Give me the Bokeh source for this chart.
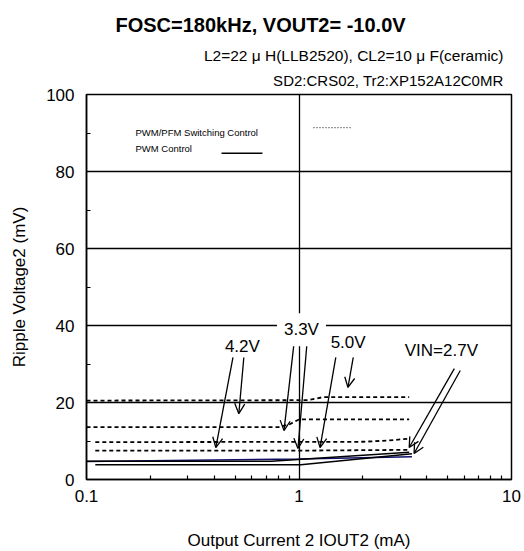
from bokeh.plotting import figure
from bokeh.models import ColumnDataSource, Label, Arrow, OpenHead, FixedTicker, Range1d, Title
from bokeh.embed import file_html
from bokeh.resources import INLINE

FONT = "Liberation Sans"

# ---- texts ----
title_text = "FOSC=180kHz, VOUT2= -10.0V"
subtitle_1 = "L2=22 \u03bc H(LLB2520), CL2=10 \u03bc F(ceramic)"
subtitle_2 = "SD2:CRS02, Tr2:XP152A12C0MR"
x_label = "Output Current 2 IOUT2 (mA)"
y_label = "Ripple Voltage2 (mV)"
legend_pfm = "PWM/PFM Switching Control"
legend_pwm = "PWM  Control"

# ---- ticks ----
x_ticks = [0.1, 1, 10]
x_tick_labels = ["0.1", "1", "10"]
x_minor = [0.2, 0.3, 0.4, 0.5, 0.6, 0.7, 0.8, 0.9, 2, 3, 4, 5, 6, 7, 8, 9]
y_ticks = [0, 20, 40, 60, 80, 100]
y_minor = [10, 30, 50, 70, 90]

# ---- PWM/PFM switching control (dashed) ----
x_pfm_1 = [0.1, 1.1, 1.3, 3.3]
y_pfm_1 = [20.5, 20.6, 21.4, 21.4]
x_pfm_2 = [0.1, 0.8, 0.9, 1.0, 3.3]
y_pfm_2 = [13.6, 13.6, 14.3, 15.6, 15.6]
x_pfm_3 = [0.11, 2.0, 2.6, 3.3]
y_pfm_3 = [9.7, 9.8, 10.1, 10.6]
x_pfm_4 = [0.11, 1.0, 3.3]
y_pfm_4 = [7.5, 7.5, 7.7]

# ---- PWM control (solid) ----
x_pwm_1 = [0.1, 0.74, 3.3]
y_pwm_1 = [4.75, 4.75, 7.1]
x_pwm_2 = [0.1, 1.0, 3.4]
y_pwm_2 = [4.7, 5.3, 5.9]
x_pwm_3 = [0.11, 1.02, 3.4]
y_pwm_3 = [3.8, 3.8, 6.7]

# ---- VIN labels and arrows ----
vin_text = ["4.2V", "3.3V", "5.0V", "VIN=2.7V"]
vin_x = [0.5415, 1.027, 1.703, 4.676]
vin_y = [34.6, 38.9, 35.7, 33.6]

arrow_x0 = [0.489, 0.550, 0.947, 1.09, 1.49, 1.80, 5.38, 5.74]
arrow_y0 = [31.7, 31.7, 35.3, 35.3, 31.7, 31.7, 28.8, 28.3]
arrow_x1 = [0.406, 0.521, 0.850, 0.989, 1.256, 1.70, 3.30, 3.48]
arrow_y1 = [8.3, 17.1, 12.7, 8.05, 8.3, 23.9, 8.3, 6.75]

# legend sample segments (data units)
leg_pfm_x = [1.17, 1.748]
leg_pfm_y = [91.4, 91.4]
leg_pwm_x = [0.432, 0.673]
leg_pwm_y = [84.75, 84.75]

p = figure(x_axis_type="log", x_range=Range1d(0.1, 10), y_range=Range1d(0, 100),
           frame_width=425, frame_height=385,
           min_border_left=86, min_border_right=12, min_border_top=94, min_border_bottom=70,
           output_backend="svg", toolbar_location=None, title=title_text)
p.background_fill_color = "white"
p.border_fill_color = "white"
p.outline_line_color = "black"
p.outline_line_width = 1.5
p.outline_line_alpha = 1

# figure title is outermost; added titles stack with the first one closest to the frame
p.title.align = "left"
p.title.offset = 29
p.title.standoff = 18
p.title.text_font = FONT
p.title.text_font_size = "20px"
p.title.text_font_style = "bold"
p.title.text_color = "black"
p.add_layout(Title(text=subtitle_2, align="right", offset=8, standoff=12, text_font=FONT,
                   text_font_size="15px", text_font_style="normal", text_color="black"), "above")
p.add_layout(Title(text=subtitle_1, align="right", offset=8, standoff=0, text_font=FONT,
                   text_font_size="15.5px", text_font_style="normal", text_color="black"), "above")

p.grid.grid_line_color = "black"
p.grid.grid_line_width = 1.3
p.grid.grid_line_alpha = 1

p.xaxis.ticker = FixedTicker(ticks=x_ticks, minor_ticks=x_minor)
p.xaxis.major_label_overrides = dict(zip(x_ticks, x_tick_labels))
p.yaxis.ticker = FixedTicker(ticks=y_ticks, minor_ticks=y_minor)

for ax in (p.xaxis[0], p.yaxis[0]):
    ax.axis_line_color = "black"
    ax.axis_line_width = 1.5
    ax.major_tick_in = 0
    ax.major_tick_out = 0
    ax.minor_tick_in = 4
    ax.minor_tick_out = 0
    ax.minor_tick_line_color = "black"
    ax.minor_tick_line_width = 1.2
    ax.major_label_text_font = FONT
    ax.major_label_text_font_size = "17px"
    ax.major_label_text_color = "black"
    ax.axis_label_text_font = FONT
    ax.axis_label_text_font_size = "17px"
    ax.axis_label_text_font_style = "normal"
    ax.axis_label_text_color = "black"

p.xaxis.axis_label = x_label
p.yaxis.axis_label = y_label
p.xaxis.major_label_standoff = 10
p.yaxis.major_label_standoff = 12
p.xaxis.axis_label_standoff = 26
p.yaxis.axis_label_standoff = 14

# curves
for xs, ys in [(x_pfm_1, y_pfm_1), (x_pfm_2, y_pfm_2), (x_pfm_3, y_pfm_3), (x_pfm_4, y_pfm_4)]:
    p.line(xs, ys, line_color="black", line_width=1.8, line_dash="4 3")
p.line(x_pwm_2, y_pwm_2, line_color="#10106a", line_width=1.5)
for xs, ys in [(x_pwm_1, y_pwm_1), (x_pwm_3, y_pwm_3)]:
    p.line(xs, ys, line_color="black", line_width=1.5)

# legend samples
p.line(leg_pfm_x, leg_pfm_y, line_color="#333333", line_width=1.4, line_dash="1 2")
p.line(leg_pwm_x, leg_pwm_y, line_color="black", line_width=1.5)

# arrows
asrc = ColumnDataSource(dict(x0=arrow_x0, y0=arrow_y0, x1=arrow_x1, y1=arrow_y1))
p.add_layout(Arrow(x_start="x0", y_start="y0", x_end="x1", y_end="y1", source=asrc,
                   line_color="black", line_width=1.3,
                   end=OpenHead(size=10, line_color="black", line_width=1.3)))

# vin labels
for t, x, y in zip(vin_text, vin_x, vin_y):
    kw = {}
    if t == "3.3V":
        kw = dict(background_fill_color="white", background_fill_alpha=1.0, padding=7)
    p.add_layout(Label(x=x, y=y, text=t, text_align="center", text_baseline="alphabetic",
                       text_font=FONT, text_font_size="17px", text_color="black", **kw))

# legend texts (screen units relative to the frame, origin bottom-left)
p.add_layout(Label(x=49, y=347, x_units="screen", y_units="screen", text=legend_pfm,
                   text_align="left", text_baseline="alphabetic", text_font=FONT,
                   text_font_size="9.5px", text_color="black"))
p.add_layout(Label(x=49, y=331.3, x_units="screen", y_units="screen", text=legend_pwm,
                   text_align="left", text_baseline="alphabetic", text_font=FONT,
                   text_font_size="9.5px", text_color="black"))

open("out.html", "w").write(file_html(p, INLINE))
